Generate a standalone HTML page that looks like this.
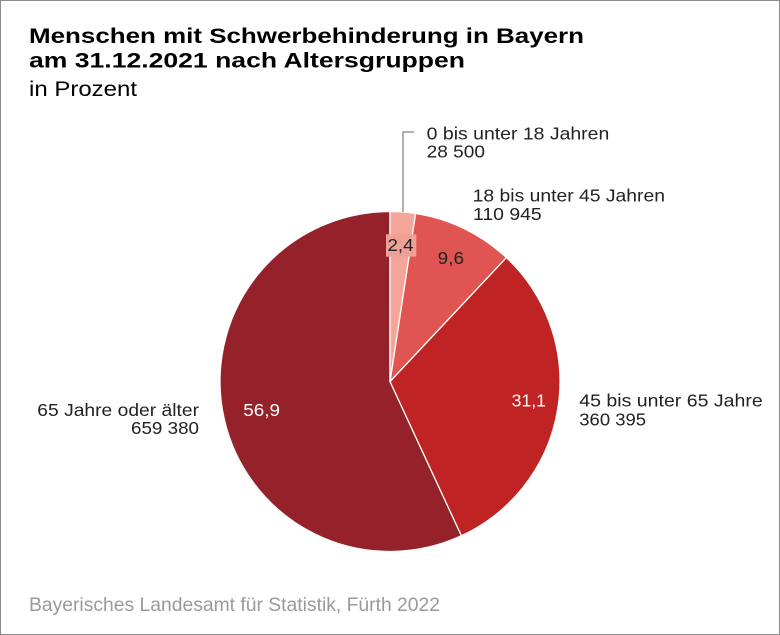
<!DOCTYPE html>
<html>
<head>
<meta charset="utf-8">
<style>
  html, body { margin: 0; padding: 0; background: #fff; }
  body { width: 780px; height: 635px; overflow: hidden; }
  svg { display: block; }
  text { font-family: "Liberation Sans", Arial, sans-serif; }
</style>
</head>
<body>
<svg width="780" height="635" viewBox="0 0 780 635" xmlns="http://www.w3.org/2000/svg">
  <rect x="0.5" y="0.5" width="779" height="634" fill="#ffffff" stroke="#8a8a8a" stroke-width="1"/>

  <!-- Title -->
  <text x="29" y="43" font-size="21" font-weight="bold" fill="#000" textLength="555" lengthAdjust="spacingAndGlyphs">Menschen mit Schwerbehinderung in Bayern</text>
  <text x="29" y="67.5" font-size="21" font-weight="bold" fill="#000" textLength="436" lengthAdjust="spacingAndGlyphs">am 31.12.2021 nach Altersgruppen</text>
  <text x="29" y="96" font-size="21" fill="#000" textLength="108" lengthAdjust="spacingAndGlyphs">in Prozent</text>

  <!-- Pie -->
  <g stroke="#ffffff" stroke-width="1.3" stroke-linejoin="round">
    <path d="M390,381.5 L461.42,535.77 A170,170 0 1 1 390,211.5 Z" fill="#95222A"/>
    <path d="M390,381.5 L506.37,257.58 A170,170 0 0 1 461.42,535.77 Z" fill="#C02323"/>
    <path d="M390,381.5 L415.54,213.43 A170,170 0 0 1 506.37,257.58 Z" fill="#E05551"/>
    <path d="M390,381.5 L390,211.5 A170,170 0 0 1 415.54,213.43 Z" fill="#F4A599"/>
  </g>

  <!-- Leader line -->
  <polyline points="403,212 403,132 414,132" fill="none" stroke="#666" stroke-width="1"/>

  <!-- In-pie values -->
  <rect x="386" y="234.3" width="30.3" height="22.4" fill="#EFA096"/>
  <text x="387.5" y="251" font-size="17.5" fill="#222" textLength="26" lengthAdjust="spacingAndGlyphs">2,4</text>
  <text x="437.7" y="264" font-size="17.5" fill="#222" textLength="26.3" lengthAdjust="spacingAndGlyphs">9,6</text>
  <text x="511.7" y="406.7" font-size="17.5" fill="#fff" textLength="34.3" lengthAdjust="spacingAndGlyphs">31,1</text>
  <text x="243.3" y="416" font-size="17.5" fill="#fff" textLength="36.7" lengthAdjust="spacingAndGlyphs">56,9</text>

  <!-- Outside labels -->
  <text x="426.7" y="139.3" font-size="17.5" fill="#222" textLength="182.6" lengthAdjust="spacingAndGlyphs">0 bis unter 18 Jahren</text>
  <text x="426.7" y="157.3" font-size="17.5" fill="#222" textLength="58.3" lengthAdjust="spacingAndGlyphs">28 500</text>

  <text x="472.7" y="201.7" font-size="17.5" fill="#222" textLength="192.3" lengthAdjust="spacingAndGlyphs">18 bis unter 45 Jahren</text>
  <text x="473" y="220" font-size="17.5" fill="#222" textLength="68.7" lengthAdjust="spacingAndGlyphs">110 945</text>

  <text x="579.3" y="406.7" font-size="17.5" fill="#222" textLength="183.4" lengthAdjust="spacingAndGlyphs">45 bis unter 65 Jahre</text>
  <text x="579.3" y="425.7" font-size="17.5" fill="#222" textLength="66.7" lengthAdjust="spacingAndGlyphs">360 395</text>

  <text x="37.3" y="416" font-size="17.5" fill="#222" textLength="161.7" lengthAdjust="spacingAndGlyphs">65 Jahre oder älter</text>
  <text x="131" y="434" font-size="17.5" fill="#222" textLength="68" lengthAdjust="spacingAndGlyphs">659 380</text>

  <!-- Footer -->
  <text x="29" y="611" font-size="19.5" fill="#9a9a9a" textLength="411" lengthAdjust="spacingAndGlyphs">Bayerisches Landesamt für Statistik, Fürth 2022</text>
</svg>
</body>
</html>
